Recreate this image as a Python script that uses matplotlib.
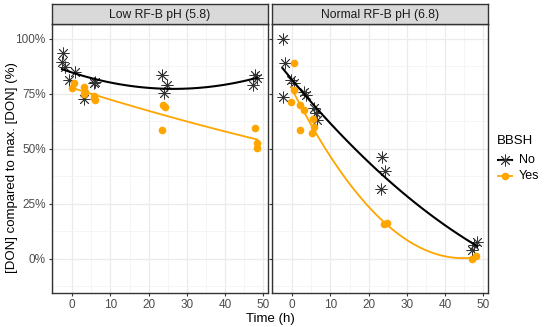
import numpy as np
import matplotlib
matplotlib.use("Agg")
import matplotlib.pyplot as plt

plt.rcParams['font.family'] = ['Liberation Sans', 'DejaVu Sans']

panels = ["Low RF-B pH (5.8)", "Normal RF-B pH (6.8)"]
groups = ["No", "Yes"]

low_no_t = [-2.3, -2.7, -2.0, 0.6, -0.9, 6.0, 5.8, 3.2, 23.6, 24.7, 24.0, 47.8, 48.3, 47.4]
low_no_v = [93.5, 89.7, 87.1, 84.9, 81.4, 80.6, 80.0, 72.6, 83.6, 79.1, 75.6, 83.6, 82.1, 79.1]
low_yes_t = [0.4, -0.1, 3.0, 3.4, 3.2, 5.6, 6.0, 5.8, 23.8, 24.3, 23.4, 47.8, 48.4, 48.3]
low_yes_v = [79.9, 77.6, 78.3, 76.0, 75.0, 73.0, 72.3, 74.0, 70.0, 69.0, 58.6, 59.7, 52.9, 50.3]

norm_no_t = [-2.3, -1.9, -0.2, 0.4, -2.5, 3.1, 3.6, 5.8, 6.2, 6.6, 23.6, 24.2, 23.3, 48.4, 47.6, 47.1]
norm_no_v = [100, 89, 81.4, 79.9, 73.8, 76, 74.5, 68.5, 66.2, 63.2, 46.5, 40.1, 31.8, 7.9, 6.4, 4.1]
norm_yes_t = [0.5, -0.3, 0.4, 2.1, 3.1, 2.1, 5.3, 5.8, 5.1, 24.0, 24.7, 47.1, 48.0]
norm_yes_v = [89, 71.5, 76.8, 70, 67.7, 58.6, 63.5, 60.1, 57.1, 15.9, 16.5, 0, 1.3]

data = {
    (panels[0], "No"): (low_no_t, low_no_v),
    (panels[0], "Yes"): (low_yes_t, low_yes_v),
    (panels[1], "No"): (norm_no_t, norm_no_v),
    (panels[1], "Yes"): (norm_yes_t, norm_yes_v),
}

colors = {"No": "black", "Yes": "#FFA500"}


def smooth(x, y, xs):
    coef = np.polyfit(np.asarray(x, float), np.asarray(y, float), 2)
    return np.polyval(coef, xs)


W, H = 550, 327
fig = plt.figure(figsize=(W / 100, H / 100), dpi=100)

ax_lefts = [52, 272]
ax_w = 216
top, bottom = 24, 293
strip_h = 20
xlim = (-5.3, 51.2)
ylim = (-15.5, 106.8)

for i, p in enumerate(panels):
    ax = fig.add_axes([ax_lefts[i] / W, 1 - bottom / H, ax_w / W, (bottom - top) / H])
    ax.set_xlim(*xlim)
    ax.set_ylim(*ylim)
    ax.set_xticks([0, 10, 20, 30, 40, 50])
    ax.set_xticks([-5, 5, 15, 25, 35, 45], minor=True)
    ax.set_yticks([0, 25, 50, 75, 100])
    ax.set_yticks([-12.5, 12.5, 37.5, 62.5, 87.5], minor=True)
    ax.grid(True, which='major', color='#EBEBEB', lw=0.9)
    ax.grid(True, which='minor', color='#F2F2F2', lw=0.5)
    ax.set_axisbelow(True)
    for s in ax.spines.values():
        s.set_color('#333333')
        s.set_linewidth(1.0)
    ax.tick_params(which='major', length=2.5, color='#333333', labelsize=8.5,
                   labelcolor='#4D4D4D', pad=2)
    ax.tick_params(which='minor', length=0)
    if i == 0:
        ax.set_yticklabels([f"{v}%" for v in [0, 25, 50, 75, 100]])
    else:
        ax.set_yticklabels([])
    for g in groups:
        t, v = data[(p, g)]
        xs = np.linspace(min(t), max(t), 120)
        ys = smooth(t, v, xs)
        if g == "No":
            ax.plot(t, v, ls='none', marker=(8, 2, 0), ms=8.5, mew=0.6,
                    color='#333333', zorder=3)
            ax.plot(xs, ys, color='black', lw=1.5, zorder=4)
        else:
            ax.plot(t, v, ls='none', marker='o', ms=5.5, mew=0,
                    color=colors[g], zorder=3)
            ax.plot(xs, ys, color=colors[g], lw=1.3, zorder=4)
    sax = fig.add_axes([ax_lefts[i] / W, 1 - top / H, ax_w / W, strip_h / H])
    sax.set_facecolor('#D9D9D9')
    sax.set_xticks([])
    sax.set_yticks([])
    for s in sax.spines.values():
        s.set_color('#333333')
        s.set_linewidth(1.0)
    sax.text(0.5, 0.45, p, ha='center', va='center', fontsize=8.7, color='#1A1A1A',
             transform=sax.transAxes)

fig.text(270 / W, 1 - 319 / H, "Time (h)", ha='center', va='center', fontsize=9.5)
fig.text(12 / W, 1 - 168 / H, "[DON] compared to max. [DON] (%)", ha='center',
         va='center', rotation=90, fontsize=9.5)

fig.text(497 / W, 1 - 141 / H, "BBSH", ha='left', va='center', fontsize=9.5)
lax = fig.add_axes([495 / W, 1 - 185 / H, 55 / W, 35 / H])
lax.set_xlim(0, 55)
lax.set_ylim(185, 150)
lax.axis('off')
lax.plot([3, 17], [160, 160], color='black', lw=1.5)
lax.plot([10], [160], marker=(8, 2, 0), ms=8.5, mew=0.6, color='#333333')
lax.plot([3, 17], [176, 176], color='#FFA500', lw=1.3)
lax.plot([10], [176], marker='o', ms=5.5, mew=0, color='#FFA500')
lax.text(24, 160, "No", va='center', ha='left', fontsize=9)
lax.text(24, 176, "Yes", va='center', ha='left', fontsize=9)

fig.savefig("out.png", dpi=100)
